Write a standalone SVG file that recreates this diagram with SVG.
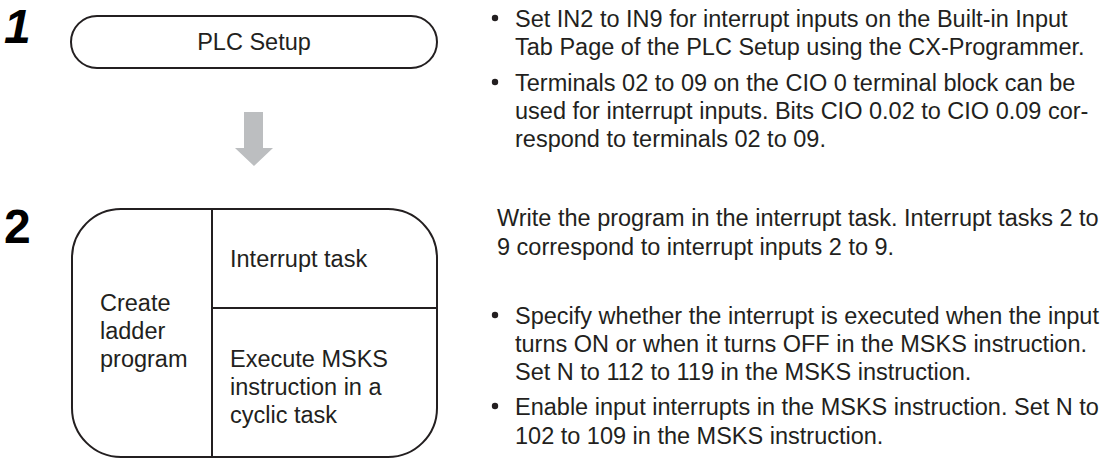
<svg xmlns="http://www.w3.org/2000/svg" width="1112" height="458" viewBox="0 0 1112 458">
<style>
.t{font-family:"Liberation Sans",Arial,sans-serif;font-size:23.5px;fill:#231f20}
.num{font-family:"Liberation Sans",Arial,sans-serif;font-size:48px;font-weight:bold;fill:#000}
.box{fill:none;stroke:#231f20;stroke-width:2}
.bul{fill:#231f20}
</style>
<rect width="1112" height="458" fill="#fff"/>
<g id="step1">
<text class="num" x="4" y="43" font-style="italic">1</text>
</g>
<g id="plc-setup">
<rect class="box" x="71" y="16" width="366" height="52" rx="26" ry="26"/>
<text class="t" x="254" y="50" text-anchor="middle">PLC Setup</text>
</g>
<g id="step1-notes">
<circle class="bul" cx="495" cy="18" r="3.2"/>
<text class="t" x="515" y="27">Set IN2 to IN9 for interrupt inputs on the Built-in Input</text>
<text class="t" x="515" y="55">Tab Page of the PLC Setup using the CX-Programmer.</text>
<circle class="bul" cx="495" cy="82" r="3.2"/>
<text class="t" x="515" y="91">Terminals 02 to 09 on the CIO 0 terminal block can be</text>
<text class="t" x="515" y="119">used for interrupt inputs. Bits CIO 0.02 to CIO 0.09 cor-</text>
<text class="t" x="515" y="147">respond to terminals 02 to 09.</text>
</g>
<g id="connectors">
<polygon points="244,112 263,112 263,148 273,148 254,166 235,148 244,148" fill="#bcbec0"/>
</g>
<g id="step2">
<text class="num" x="4" y="243">2</text>
</g>
<g id="ladder-program">
<rect class="box" x="72" y="209" width="365" height="248" rx="49" ry="49"/>
<line class="box" x1="212" y1="209" x2="212" y2="457"/>
<line class="box" x1="212" y1="308" x2="437" y2="308"/>
<text class="t" x="100" y="311">Create</text>
<text class="t" x="100" y="339">ladder</text>
<text class="t" x="100" y="367">program</text>
<text class="t" x="230" y="267">Interrupt task</text>
<text class="t" x="230" y="367">Execute MSKS</text>
<text class="t" x="230" y="395">instruction in a</text>
<text class="t" x="230" y="423">cyclic task</text>
</g>
<g id="step2-notes">
<text class="t" x="497" y="226">Write the program in the interrupt task. Interrupt tasks 2 to</text>
<text class="t" x="497" y="255">9 correspond to interrupt inputs 2 to 9.</text>
<circle class="bul" cx="495" cy="315" r="3.2"/>
<text class="t" x="515" y="324">Specify whether the interrupt is executed when the input</text>
<text class="t" x="515" y="352">turns ON or when it turns OFF in the MSKS instruction.</text>
<text class="t" x="515" y="380">Set N to 112 to 119 in the MSKS instruction.</text>
<circle class="bul" cx="495" cy="406" r="3.2"/>
<text class="t" x="515" y="415">Enable input interrupts in the MSKS instruction. Set N to</text>
<text class="t" x="515" y="444">102 to 109 in the MSKS instruction.</text>
</g>
</svg>
